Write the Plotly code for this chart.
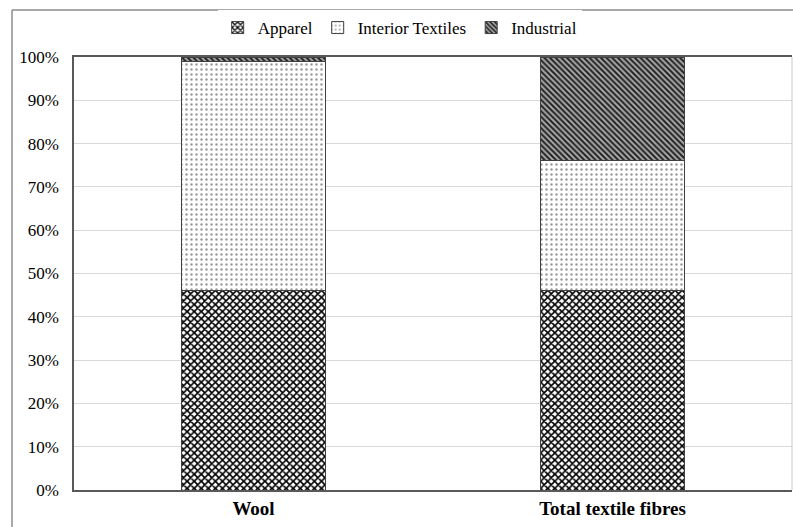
import plotly.graph_objects as go

categories = ["Wool", "Total textile fibres"]
apparel = [46, 46]
interior = [53, 30]
industrial = [1, 24]
y_ticks = [0, 10, 20, 30, 40, 50, 60, 70, 80, 90, 100]
y_tick_labels = [f"{v}%" for v in y_ticks]

W, H = 793, 527
# paper (outer chart frame) starts at x=12, y=10
ML, MT = 12, 10
pw, ph = W - ML, H - MT
# plot area in pixels
PX0, PX1, PY0, PY1 = 74, 792, 57, 490

fig = go.Figure()
fig.add_trace(go.Bar(
    name="Apparel", x=categories, y=apparel, width=0.4,
    marker=dict(color="white", line=dict(color="#404040", width=1),
                pattern=dict(shape="x", size=5, solidity=0.55, fgcolor="black", bgcolor="white", fillmode="replace")),
))
fig.add_trace(go.Bar(
    name="Interior Textiles", x=categories, y=interior, width=0.4,
    marker=dict(color="white", line=dict(color="#404040", width=1),
                pattern=dict(shape=".", size=5, solidity=0.18, fgcolor="#999999", bgcolor="white", fillmode="replace")),
))
fig.add_trace(go.Bar(
    name="Industrial", x=categories, y=industrial, width=0.4,
    marker=dict(color="white", line=dict(color="#404040", width=1),
                pattern=dict(shape="\\", size=4, solidity=0.5, fgcolor="#222222", bgcolor="#aaaaaa", fillmode="replace")),
))

# outer chart frame (left and top edges visible)
fig.add_shape(type="line", xref="paper", yref="paper", x0=0, x1=0, y0=0, y1=1,
              line=dict(color="#8c8c8c", width=1.5))
fig.add_shape(type="line", xref="paper", yref="paper", x0=0, x1=1, y0=1, y1=1,
              line=dict(color="#8c8c8c", width=1.5))

xd = [(PX0 - ML) / pw, (PX1 - ML) / pw]
yd = [(H - PY1) / ph, (H - PY0) / ph]

# light right border of plot area
fig.add_shape(type="line", xref="paper", yref="paper", x0=xd[1], x1=xd[1], y0=yd[0], y1=yd[1],
              line=dict(color="#c8c8c8", width=1))

fig.update_layout(
    width=W, height=H, barmode="stack",
    margin=dict(l=ML, r=0, t=MT, b=0, autoexpand=False),
    paper_bgcolor="white", plot_bgcolor="white",
    font=dict(family="Liberation Serif, Times New Roman, serif", size=17, color="black"),
    legend=dict(orientation="h", xref="container", yref="container", x=0.504, xanchor="center",
                y=1 - 28 / H, yanchor="middle", font=dict(size=17), traceorder="normal",
                itemwidth=30, tracegroupgap=0),
    xaxis=dict(domain=xd, showline=True, linecolor="#595959", linewidth=1.5, mirror=True,
               tickfont=dict(size=19, family="Liberation Serif", weight="bold"),
               ticks="", ticklabelstandoff=0, range=[-0.5, 1.5]),
    yaxis=dict(domain=yd, range=[0, 100], tickvals=y_ticks, ticktext=y_tick_labels,
               showline=True, linecolor="#595959", linewidth=1.5,
               showgrid=True, gridcolor="#d9d9d9", gridwidth=1,
               ticks="", ticklabelstandoff=10, tickfont=dict(size=17), zeroline=False),
)

fig.write_html("out.html", config={"displayModeBar": False},
               post_script="document.body.style.margin='0';document.body.style.overflow='hidden';")
